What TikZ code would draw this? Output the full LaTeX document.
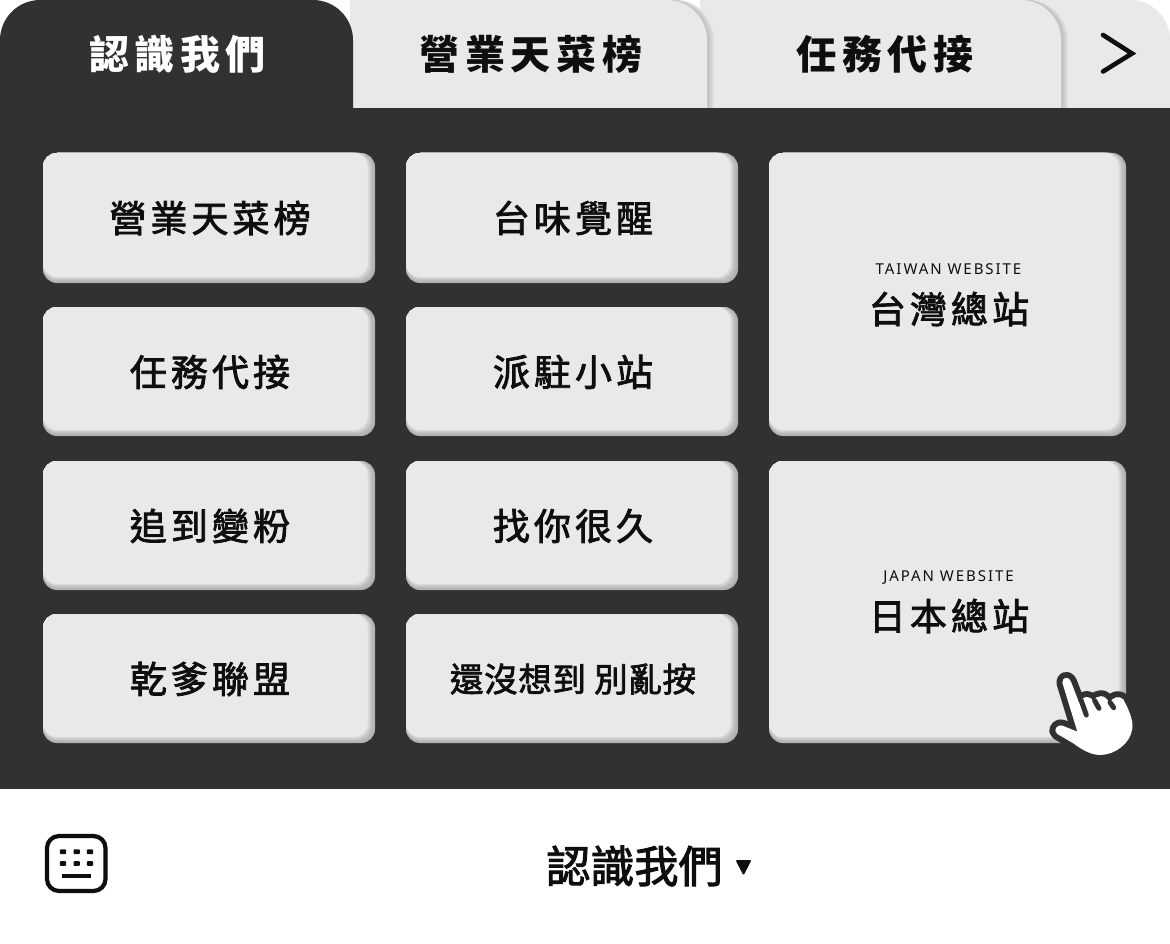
\documentclass[tikz,border=0pt]{standalone}
\usepackage{fontspec}
\newfontfamily\cjkm[FakeBold=2.2]{Noto Sans CJK TC}
\newfontfamily\cjkb{Noto Sans CJK TC}
\newfontfamily\latn{Noto Sans}
\definecolor{panel}{HTML}{323130}
\definecolor{key}{HTML}{E9E9E9}
\definecolor{keyedge}{HTML}{B0B0B0}
\definecolor{tabedge}{HTML}{C2C2C2}
\definecolor{ink}{HTML}{0E0E0E}
\newcommand{\bevelbox}[4]{%
  \foreach \k in {0,...,11}{%
    \pgfmathtruncatemacro{\pct}{min(100,100*(\k/10)^1.5)}%
    \fill[key!\pct!keyedge,rounded corners=14] (#1,#2) rectangle ({#3-\k*0.75},{#4-\k*0.62});
  }%
}
\newcommand{\tabshape}[2]{(#1,108) -- (#1,0) -- ({#2-40},0) .. controls ({#2-18},0) and (#2,18) .. (#2,40) -- (#2,108) -- cycle}
\newcommand{\tabshadow}[2]{%
  \foreach \k in {10,...,1}{%
    \pgfmathtruncatemacro{\pct}{min(100,100*((\k-1)/9)^1.3)}%
    \fill[key!\pct!tabedge] ({#1},108) -- ({#1},0) -- ({#2-40+\k*0.8},0) .. controls ({#2-18+\k*0.8},0) and ({#2+\k*0.8},18) .. ({#2+\k*0.8},40) -- ({#2+\k*0.8},108) -- cycle;
  }%
}
\tikzset{
  x=1pt,y=-1pt,
  tabtext/.style={font=\fontsize{40}{44}\cjkb\bfseries\addfontfeature{LetterSpace=14},text=ink,inner sep=0},
  btntext/.style={font=\fontsize{37}{40}\cjkm\addfontfeature{LetterSpace=11},text=ink,inner sep=0},
  smalltext/.style={font=\fontsize{33.5}{36}\cjkm\addfontfeature{LetterSpace=2},text=ink,inner sep=0},
  entext/.style={font=\fontsize{15}{16}\latn\addfontfeature{LetterSpace=13},text=ink,inner sep=0,anchor=base},
}
\begin{document}
\begin{tikzpicture}
\useasboundingbox (0,0) rectangle (1170,944);
\fill[white] (0,0) rectangle (1170,944);
% panel
\fill[panel] (0,108) rectangle (1170,789);
% tabs
\fill[key] \tabshape{1000}{1170};
\tabshadow{700}{1061}
\fill[key] \tabshape{700}{1061};
\tabshadow{350}{707}
\fill[key] \tabshape{350}{707};
\fill[panel] (0,108) -- (0,40) .. controls (0,18) and (18,0) .. (40,0) -- (313,0) .. controls (335,0) and (353,18) .. (353,40) -- (353,108) -- cycle;
\node[tabtext,text=white] (t1) at (177.5,54) {認識我們};
\node[tabtext] (t2) at (531,54) {營業天菜榜};
\node[tabtext] (t3) at (885,54) {任務代接};
% chevron
\draw[ink,line width=4.6,line cap=round,miter limit=10] (1103,35) -- (1132,53.5) -- (1103,71.5);
% buttons
\bevelbox{43}{153}{375}{283}
\bevelbox{43}{307}{375}{436}
\bevelbox{43}{461}{375}{590}
\bevelbox{43}{614}{375}{743}
\bevelbox{406}{153}{738}{283}
\bevelbox{406}{307}{738}{436}
\bevelbox{406}{461}{738}{590}
\bevelbox{406}{614}{738}{743}
\bevelbox{769}{153}{1126}{436}
\bevelbox{769}{461}{1126}{743}
\node[btntext] (a1) at (210,218) {營業天菜榜};
\node[btntext] (a2) at (210,372) {任務代接};
\node[btntext] (a3) at (210,526) {追到變粉};
\node[btntext] (a4) at (210,679) {乾爹聯盟};
\node[btntext] (b1) at (573,218) {台味覺醒};
\node[btntext] (b2) at (573,372) {派駐小站};
\node[btntext] (b3) at (573,526) {找你很久};
\node[smalltext] (b4) at (573,679) {還沒想到 別亂按};
\node[entext] (c1) at (948.5,274.5) {TAIWAN WEBSITE};
\node[btntext] (c2) at (949,309) {台灣總站};
\node[entext] (d1) at (948.5,581.5) {JAPAN WEBSITE};
\node[btntext] (d2) at (949,616) {日本總站};
% hand
\begin{scope}[shift={(1000,640)},x=0.3333pt,y=-0.3333pt]
\def\handpath{(187,128) .. controls (187,110) and (207,108) .. (213,125) -- (238,190) .. controls (245,165) and (272,165) .. (280,185) .. controls (288,162) and (318,162) .. (328,190) .. controls (335,172) and (358,165) .. (370,178) .. controls (390,215) and (400,245) .. (397,265) .. controls (392,310) and (345,345) .. (300,345) .. controls (270,345) and (240,325) .. (220,310) -- (172,282) .. controls (158,272) and (170,250) .. (190,258) -- (232,275) -- cycle}
\draw[panel,line width=12pt,line join=round] \handpath;
\fill[white] \handpath;
\draw[panel,line width=5pt,line cap=round] (243,180) -- (259,225);
\draw[panel,line width=5pt,line cap=round] (284,182) -- (297,205);
\draw[panel,line width=5pt,line cap=round] (330,187) -- (341,203);
\end{scope}
% bottom bar
\node[font=\fontsize{44}{48}\cjkm,text=ink,inner sep=0] (menu) at (634.5,866) {認識我們};
\fill[ink,rounded corners=1.2] (735.5,860) -- (751.5,860) -- (743.5,875.5) -- cycle;
% keyboard icon
\draw[ink,line width=4.2,rounded corners=12] (47,836) rectangle (105.5,891);
\foreach \xx in {63,76.7,90}{\foreach \yy in {851.7,863.5}{\fill[ink,rounded corners=0.8] (\xx-3.2,\yy-2.3) rectangle (\xx+3.2,\yy+2.3);}}
\fill[ink] (62,873.5) rectangle (91,878);
\end{tikzpicture}
\end{document}
